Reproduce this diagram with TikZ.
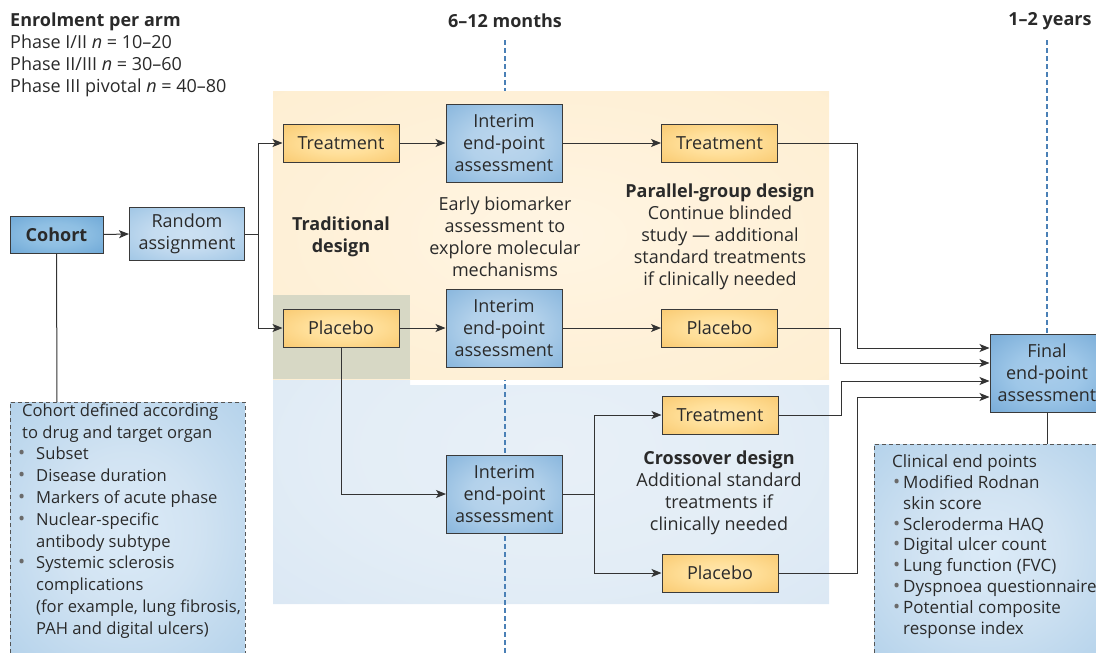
\documentclass[tikz,border=0pt]{standalone}
\usepackage{fontspec}
\setmainfont{Open Sans}
\usetikzlibrary{arrows.meta}
\definecolor{txt}{HTML}{2A2A2A}
\definecolor{lin}{HTML}{333333}
\definecolor{bord}{HTML}{3A3A3A}
\definecolor{dashblue}{HTML}{4A80B6}
\definecolor{dashgrey}{HTML}{555555}
\definecolor{overlap}{HTML}{D7D8C5}
\definecolor{bulgrey}{HTML}{6A6A6A}
\pgfdeclareradialshading{orglow}{\pgfpoint{0bp}{0bp}}{rgb(0bp)=(1,0.905,0.69);rgb(15bp)=(1,0.875,0.6);rgb(50bp)=(0.96,0.735,0.34);rgb(75bp)=(0.96,0.735,0.34)}
\pgfdeclareradialshading{blglow}{\pgfpoint{0bp}{0bp}}{rgb(0bp)=(0.74,0.84,0.93);rgb(15bp)=(0.7,0.82,0.92);rgb(50bp)=(0.42,0.64,0.83);rgb(75bp)=(0.42,0.64,0.83)}
\pgfdeclareradialshading{coglow}{\pgfpoint{0bp}{0bp}}{rgb(0bp)=(0.6,0.77,0.9);rgb(15bp)=(0.56,0.75,0.89);rgb(50bp)=(0.35,0.6,0.81);rgb(75bp)=(0.35,0.6,0.81)}
\pgfdeclareradialshading{raglow}{\pgfpoint{0bp}{0bp}}{rgb(0bp)=(0.8,0.88,0.95);rgb(15bp)=(0.77,0.86,0.94);rgb(50bp)=(0.53,0.72,0.87);rgb(75bp)=(0.53,0.72,0.87)}
\pgfdeclareradialshading{figlow}{\pgfpoint{0bp}{0bp}}{rgb(0bp)=(0.66,0.8,0.92);rgb(15bp)=(0.62,0.78,0.91);rgb(50bp)=(0.37,0.6,0.8);rgb(75bp)=(0.37,0.6,0.8)}
\pgfdeclareradialshading{dbglow}{\pgfpoint{0bp}{0bp}}{rgb(0bp)=(0.86,0.92,0.97);rgb(15bp)=(0.82,0.89,0.95);rgb(50bp)=(0.63,0.78,0.9);rgb(75bp)=(0.6,0.76,0.89)}
\pgfdeclareradialshading{orbg}{\pgfpoint{0bp}{0bp}}{rgb(0bp)=(1,0.96,0.89);rgb(20bp)=(0.998,0.945,0.85);rgb(50bp)=(0.99,0.925,0.8);rgb(75bp)=(0.99,0.925,0.8)}
\pgfdeclareradialshading{blbg}{\pgfpoint{0bp}{0bp}}{rgb(0bp)=(0.91,0.94,0.97);rgb(20bp)=(0.89,0.93,0.965);rgb(50bp)=(0.83,0.89,0.95);rgb(75bp)=(0.83,0.89,0.95)}
\newcommand\fsz{\fontsize{18}{22}\selectfont}
\newcommand\bul[2]{\hspace*{#1}\makebox[#2][l]{\textcolor{bulgrey}{\fontsize{19}{19}\selectfont\textbullet}}}
\tikzset{
  every node/.style={text=txt, font=\fsz},
  boxbase/.style={draw=bord, line width=1pt, minimum width=116pt, minimum height=38pt, inner sep=0pt, align=center},
  orbox/.style={boxbase, shading=orglow},
  blbox/.style={boxbase, shading=blglow, minimum height=78pt},
  arr/.style={draw=lin, line width=1pt, -{Stealth[length=10pt,width=8pt,inset=2.5pt]}},
  conn/.style={draw=lin, line width=1pt},
  tdash/.style={draw=dashblue, line width=1.1pt, dash pattern=on 5pt off 3pt},
  dbox/.style={draw=dashgrey, line width=1pt, dash pattern=on 4pt off 3pt, shading=dbglow},
  lbl/.style={align=center, inner sep=0pt},
}
\begin{document}
\begin{tikzpicture}[x=1pt,y=-1pt]
\useasboundingbox (0,0) rectangle (1096,653);
% backgrounds
\path[shading=blbg] (273,295) -- (410,295) -- (410,385) -- (829,385) -- (829,604) -- (273,604) -- cycle;
\coordinate (tA) at (505,40);
\coordinate (tB) at (505,653);
\draw[tdash] (tA) -- (tB);
\path[shading=orbg] (273,91) rectangle (829,379);
\fill[overlap] (273,295) rectangle (410,379);
% headings
\node[anchor=west, align=left, inner sep=0pt] (enrol) at (10,55) {\textbf{Enrolment per arm}\\Phase I/II \textit{n} = 10–20\\Phase II/III \textit{n} = 30–60\\Phase III pivotal \textit{n} = 40–80};
\node[lbl, font=\fsz\bfseries] (m612) at (505,21) {6–12 months};
\node[lbl, font=\fsz\bfseries] (y12) at (1050,21) {1–2 years};
% nodes
\node[boxbase, shading=coglow, minimum width=93pt, minimum height=37pt, font=\fsz\bfseries] (cohort) at (56.5,234.5) {Cohort};
\node[boxbase, shading=raglow, minimum width=115pt, minimum height=53pt] (rand) at (187,234) {Random\\assignment};
\node[orbox] (t1) at (341,143) {Treatment};
\node[blbox] (i1) at (504,143) {Interim\\end-point\\assessment};
\node[orbox] (t2) at (719.5,143) {Treatment};
\node[orbox] (p1) at (341,328) {Placebo};
\node[blbox] (i2) at (504,328) {Interim\\end-point\\assessment};
\node[orbox] (p2) at (719.5,328) {Placebo};
\node[orbox] (t3) at (720,415) {Treatment};
\node[blbox] (i3) at (504.5,494) {Interim\\end-point\\assessment};
\node[orbox] (p3) at (720,573) {Placebo};
\node[boxbase, shading=figlow, minimum width=114pt, minimum height=78pt] (final) at (1047,373) {Final\\end-point\\assessment};
% labels
\node[lbl, font=\fsz\bfseries] (trad) at (341,237) {Traditional\\design};
\node[lbl] (early) at (505,237) {Early biomarker\\assessment to\\explore molecular\\mechanisms};
\node[lbl] (par) at (720,237) {\textbf{Parallel-group design}\\Continue blinded\\study — additional\\standard treatments\\if clinically needed};
\node[lbl] (cross) at (719,493) {\textbf{Crossover design}\\Additional standard\\treatments if\\clinically needed};
% dashed info boxes
\path[dbox] (10,660) -- (10,402) -- (245,402) -- (245,660);
\node[anchor=west, align=left, inner sep=0pt, font=\fontsize{16.6}{21.8}\selectfont] (ctext) at (22,521) {Cohort defined according\\to drug and target organ\\\bul{-4pt}{18pt}Subset\\\bul{-4pt}{18pt}Disease duration\\\bul{-4pt}{18pt}Markers of acute phase\\\bul{-4pt}{18pt}Nuclear-specific\\\hspace*{14pt}antibody subtype\\\bul{-4pt}{18pt}Systemic sclerosis\\\hspace*{14pt}complications\\\hspace*{14pt}(for example, lung fibrosis,\\\hspace*{14pt}PAH and digital ulcers)};
\path[dbox] (874,660) -- (874,444) -- (1104,444) -- (1104,660);
\node[anchor=west, align=left, inner sep=0pt, font=\fontsize{17}{20.9}\selectfont] (etext) at (892,546.5) {Clinical end points\\\bul{1pt}{10pt}Modified Rodnan\\\hspace*{11pt}skin score\\\bul{1pt}{10pt}Scleroderma HAQ\\\bul{1pt}{10pt}Digital ulcer count\\\bul{1pt}{10pt}Lung function (FVC)\\\bul{1pt}{10pt}Dyspnoea questionnaire\\\bul{1pt}{10pt}Potential composite\\\hspace*{11pt}response index};
\coordinate (lbtop) at (57,402);
\coordinate (rbtop) at (1047,444);
\coordinate (yA) at (1047,40);
\draw[tdash] (yA) -- (final.north);
% connectors
\draw[arr] (cohort.east) -- (rand.west);
\draw[conn] (rand.east) -- ++(13,0) coordinate (s1);
\draw[arr] (s1) |- (t1.west);
\draw[arr] (s1) |- (p1.west);
\draw[arr] (t1) -- (i1);
\draw[arr] (i1) -- (t2);
\draw[arr] (p1) -- (i2);
\draw[arr] (i2) -- (p2);
\draw[arr] (p1.south) |- (i3.west);
\draw[conn] (i3.east) -- ++(31,0) coordinate (s2);
\draw[arr] (s2) |- (t3.west);
\draw[arr] (s2) |- (p3.west);
\coordinate (f1) at ([yshift=25pt]final.west);
\coordinate (f2) at ([yshift=10pt]final.west);
\coordinate (f3) at ([yshift=-8pt]final.west);
\coordinate (f4) at ([yshift=-24pt]final.west);
\draw[arr] (t2.east) -| ([xshift=-132pt]f1) -- (f1);
\draw[arr] (p2.east) -| ([xshift=-149pt]f2) -- (f2);
\draw[arr] (t3.east) -| ([xshift=-148pt]f3) -- (f3);
\draw[arr] (p3.east) -| ([xshift=-132pt]f4) -- (f4);
\draw[conn] (cohort.south) -- (lbtop);
\draw[conn] (final.south) -- (rbtop);
\end{tikzpicture}
\end{document}
